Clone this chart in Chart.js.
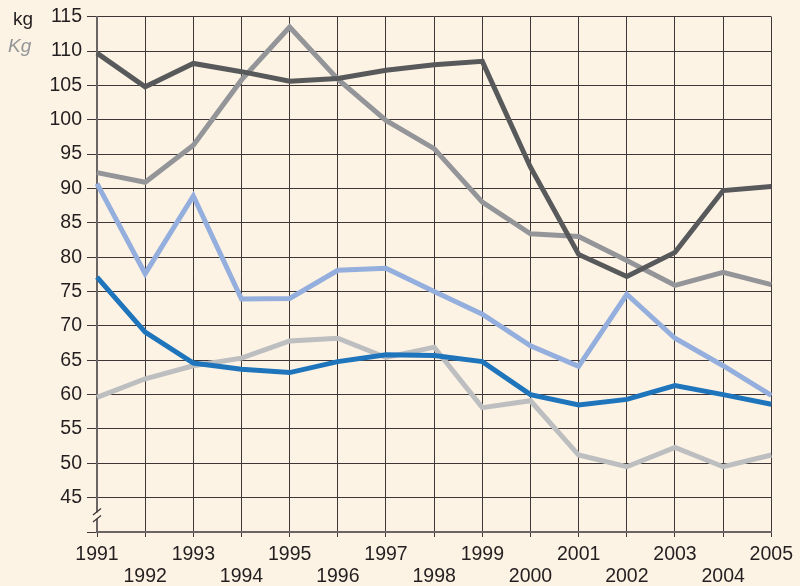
<!DOCTYPE html>
<html>
<head>
<meta charset="utf-8">
<script src="https://cdn.jsdelivr.net/npm/chart.js@4/dist/chart.umd.min.js"></script>
<style>
  html, body { margin: 0; padding: 0; background: #fdf3e4; }
  #wrap { position: relative; width: 800px; height: 586px; background: #fdf3e4; }
  canvas { position: absolute; left: 0; top: 0; }
  .unit { position: absolute; font-family: "Liberation Sans", Arial, sans-serif; font-size: 19px; line-height: 1; }
</style>
</head>
<body>
<div id="wrap">
  <canvas id="c" width="800" height="586"></canvas>
  <div class="unit" style="left:13px; top:9px; color:#231f20;">kg</div>
  <div class="unit" style="left:8px; top:36px; color:#939598; font-style:italic;">Kg</div>
</div>
<script>
const years = ['1991','1992','1993','1994','1995','1996','1997','1998','1999','2000','2001','2002','2003','2004','2005'];
const yTicks = [40,45,50,55,60,65,70,75,80,85,90,95,100,105,110,115];

const darkGray   = [109.7,104.8,108.2,107.0,105.6,106.0,107.2,108.0,108.5,93.1,80.4,77.2,80.7,89.7,90.3];
const mediumGray = [92.3,90.9,96.3,105.8,113.5,105.9,99.9,95.8,88.0,83.4,83.0,79.5,75.9,77.8,76.0];
const lightBlue  = [90.7,77.6,88.9,73.9,74.0,78.1,78.4,75.0,71.7,67.1,64.1,74.6,68.2,64.2,59.9];
const blue       = [77.1,69.1,64.6,63.7,63.2,64.8,65.8,65.7,64.8,60.0,58.5,59.3,61.3,60.0,58.6];
const lightGray  = [59.6,62.3,64.2,65.3,67.8,68.2,65.4,66.9,58.1,59.1,51.2,49.5,52.3,49.5,51.2];

const BG = '#fdf3e4';
const GRID = '#3f3737';
const TEXT = '#231f20';
const FONT = '"Liberation Sans", Arial, sans-serif';

function ds(data, color) {
  return { data, borderColor: color, backgroundColor: color, borderWidth: 5,
           pointRadius: 0, pointHoverRadius: 0, tension: 0, fill: false,
           borderJoinStyle: 'miter', borderCapStyle: 'butt' };
}

const bgPlugin = {
  id: 'bg',
  beforeDraw(chart) {
    const ctx = chart.ctx;
    ctx.save();
    ctx.fillStyle = BG;
    ctx.fillRect(0, 0, chart.width, chart.height);
    ctx.restore();
  }
};

const breakPlugin = {
  id: 'axisBreak',
  afterDraw(chart) {
    const ctx = chart.ctx;
    const x = chart.scales.x.getPixelForValue(0);
    const y = chart.scales.y.getPixelForValue(42.4);
    ctx.save();
    ctx.fillStyle = BG;
    ctx.fillRect(x - 2, y - 3, 4, 6);
    ctx.strokeStyle = GRID;
    ctx.lineWidth = 1.3;
    ctx.beginPath();
    ctx.moveTo(x - 4, y - 0.5); ctx.lineTo(x + 4, y - 7);
    ctx.moveTo(x - 4, y + 6.5); ctx.lineTo(x + 4, y + 0);
    ctx.stroke();
    ctx.restore();
  }
};

new Chart(document.getElementById('c'), {
  type: 'line',
  data: {
    labels: years,
    datasets: [
      ds(darkGray, '#58595b'),
      ds(mediumGray, '#939598'),
      ds(blue, '#1f75bb'),
      ds(lightBlue, '#94afdd'),
      ds(lightGray, '#bcbec0')
    ]
  },
  options: {
    responsive: false,
    animation: false,
    devicePixelRatio: 1,
    layout: { padding: { top: 16.5, right: 28, left: 0, bottom: 0 } },
    plugins: { legend: { display: false }, tooltip: { enabled: false } },
    scales: {
      x: {
        type: 'category',
        offset: false,
        grid: { color: GRID, lineWidth: 1, drawTicks: true, tickLength: 5, tickColor: GRID },
        border: { color: '#6b6464', width: 2 },
        ticks: {
          autoSkip: false, maxRotation: 0, minRotation: 0, padding: 7,
          color: TEXT, font: { family: FONT, size: 19.5, lineHeight: 1.1 },
          callback: function(v, i) {
            const y = years[i];
            return (i % 2 === 0) ? [y, ''] : ['', y];
          }
        },
        afterFit(scale) { scale.height = 54; }
      },
      y: {
        min: 40, max: 115,
        afterBuildTicks(scale) { scale.ticks = yTicks.map(v => ({ value: v })); },
        grid: { color: GRID, lineWidth: 1, drawTicks: true, tickLength: 10, tickColor: GRID },
        border: { color: '#6b6464', width: 2 },
        ticks: {
          padding: 5, color: TEXT, font: { family: FONT, size: 19.5 },
          callback: function(v) { return v === 40 ? '' : String(v); }
        },
        afterFit(scale) { scale.width = 97; }
      }
    }
  },
  plugins: [bgPlugin, breakPlugin]
});
</script>
</body>
</html>
